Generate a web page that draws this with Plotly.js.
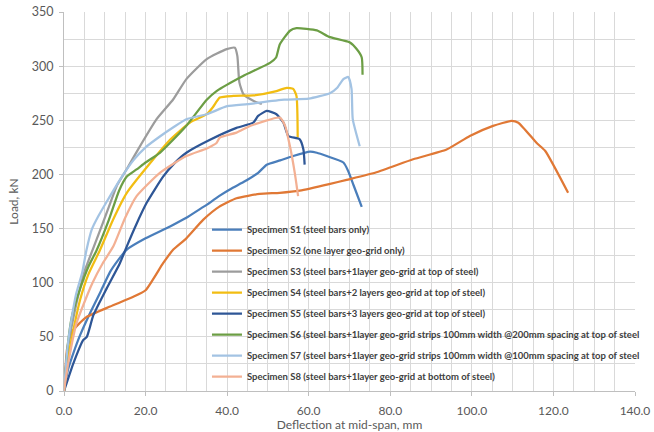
<!DOCTYPE html>
<html>
<head>
<meta charset="utf-8">
<script src="https://cdn.plot.ly/plotly-3.0.1.min.js"></script>
<style>
  html, body { margin: 0; padding: 0; background: #ffffff; }
  #chart { width: 654px; height: 432px; }
</style>
</head>
<body>
<div id="chart"></div>
<script>
// Load–deflection curves of the tested beam specimens
const s1Defl = [0, 1, 2.3, 4, 6.4, 9, 11.3, 13.5, 15.4, 20, 26, 30, 33.3, 35.8, 38, 41.5, 44, 47.6, 49.7, 53, 56.2, 60.3, 62, 64.4, 68.5, 69.7, 71, 73];
const s1Load = [0, 20, 35, 52, 72, 92, 110, 122, 130.6, 141, 152, 160, 168, 174, 180, 188, 193, 201.5, 209, 213, 217, 221, 220, 217, 211, 203, 190, 170];

const s2Defl = [0, 0.8, 2, 5.4, 11.3, 17, 20, 24.3, 26.8, 30, 34.1, 38, 42.3, 48, 52.9, 57.8, 65, 69.3, 76.6, 85.6, 93.8, 99.5, 105.2, 109.7, 111.4, 115.9, 118, 123.6];
const s2Load = [0, 40, 55, 68, 78, 87, 93, 118, 130.6, 141, 158, 170, 178, 182, 183, 185, 191, 195, 202, 214, 223, 235.5, 244.8, 249.4, 247.8, 229, 221.6, 183];

const s3Defl = [0, 1, 3, 5, 8, 11, 13, 15.4, 18, 22.7, 26.8, 30, 35, 39.9, 41.9, 42.5, 43, 44, 46.4, 48.5];
const s3Load = [0, 40, 80, 110, 140, 170, 190, 205, 222, 251, 269.4, 288, 306.5, 315.7, 317, 309.5, 285, 274, 268, 265];

const s4Defl = [0, 1, 2.5, 4, 6, 8.8, 12, 15.4, 21.9, 26, 30.9, 35, 36.5, 38.2, 41.5, 46.4, 52.1, 54.6, 56.2, 57, 57.3];
const s4Load = [0, 30, 60, 85, 108, 130, 158, 183, 214, 232, 248, 255.6, 262, 271, 272.5, 273, 277, 280, 279, 272.5, 234];

const s5Defl = [0, 2.3, 4.7, 5.6, 7.2, 10.5, 13.7, 15.4, 17.5, 20.3, 24.3, 27, 30, 35.8, 42.3, 46.4, 47.6, 49.7, 52.1, 53.8, 55, 57.8, 58.7, 59];
const s5Load = [0, 25.6, 47, 50, 70, 95, 118, 133.6, 152, 174, 198, 210, 220, 232, 243, 247.8, 254, 258.6, 255.6, 247.8, 235.5, 232.4, 223, 209];

const s6Defl = [0, 1, 2, 4, 6, 8, 11, 13.5, 15.4, 17.8, 20, 23.5, 27, 30, 35, 37.4, 43.9, 50.5, 52, 52.9, 55.4, 57, 62, 65, 70, 71.7, 73, 73.2];
const s6Load = [0, 45, 70, 95, 115, 130, 158, 185, 198, 204.6, 211, 220, 233, 245, 269, 277, 291, 303, 308, 320, 332.7, 335, 333, 327, 322, 316, 308, 292];

const s7Defl = [0, 0.5, 1, 2, 3, 4.5, 5.5, 6.8, 8.5, 10.5, 13.7, 17, 20, 23.5, 27, 30, 35, 40, 45, 54, 60, 65.2, 67, 68.5, 69.7, 70.5, 70.8, 72.5];
const s7Load = [0, 25, 45, 70, 90, 110, 130, 149, 162, 175, 195, 213, 225, 235, 244, 251, 255.6, 263, 265, 269, 270, 275, 280, 288, 290, 279, 251, 226];

const s8Defl = [0, 1, 2, 3, 5, 7, 9.5, 12.1, 15, 17.8, 23.5, 30, 35, 37.4, 38.2, 42.3, 45.6, 52.9, 54.2, 55.4, 56.6, 57.4];
const s8Load = [0, 25, 45, 62, 82, 100, 118, 133.6, 160, 180, 201.5, 217, 224, 229, 234, 238.6, 244.7, 252.5, 245, 226, 201, 180];

const seriesNames = [
  'Specimen S1 (steel bars only)',
  'Specimen S2 (one layer geo-grid only)',
  'Specimen S3 (steel bars+1layer geo-grid at top of steel)',
  'Specimen S4 (steel bars+2 layers geo-grid at top of steel)',
  'Specimen S5 (steel bars+3 layers geo-grid at top of steel)',
  'Specimen S6 (steel bars+1layer geo-grid strips 100mm width @200mm spacing at top of steel',
  'Specimen S7 (steel bars+1layer geo-grid strips 100mm width @100mm spacing at top of steel',
  'Specimen S8 (steel bars+1layer geo-grid at bottom of steel)'
];

const xTickVals = [0, 20, 40, 60, 80, 100, 120, 140];
const xTickText = ['0.0', '20.0', '40.0', '60.0', '80.0', '100.0', '120.0', '140.0'];
const yTickVals = [0, 50, 100, 150, 200, 250, 300, 350];

const seriesX = [s1Defl, s2Defl, s3Defl, s4Defl, s5Defl, s6Defl, s7Defl, s8Defl];
const seriesY = [s1Load, s2Load, s3Load, s4Load, s5Load, s6Load, s7Load, s8Load];
const colors = ['#4a7ebb', '#e07835', '#9c9c9c', '#f2bd12', '#2e5696', '#6c9e45', '#a3c3e3', '#f3b093'];

const traces = seriesNames.map((name, i) => ({
  x: seriesX[i],
  y: seriesY[i],
  name: name,
  legendgroup: 'g' + i,
  type: 'scatter',
  mode: 'lines',
  line: { color: colors[i], width: 2.25, shape: 'spline', smoothing: 0.5 }
}));

const textFont = 'Lato, "Liberation Sans", sans-serif';

const layout = {
  width: 654,
  height: 432,
  margin: { l: 64, r: 19, t: 12, b: 41, autoexpand: false },
  paper_bgcolor: '#ffffff',
  plot_bgcolor: '#ffffff',
  font: { family: textFont, color: '#595959', size: 12 },
  showlegend: true,
  legend: {
    x: 0.2504, y: 0.464, xanchor: 'left', yanchor: 'top',
    bgcolor: 'rgba(0,0,0,0)',
    font: { size: 9.5, color: '#404040', family: textFont, weight: 'bold' },
    traceorder: 'grouped',
    tracegroupgap: 2,
    itemwidth: 30
  },
  xaxis: {
    range: [0, 140],
    automargin: false,
    tickvals: xTickVals,
    ticktext: xTickText,
    showgrid: true,
    gridcolor: '#d9d9d9',
    gridwidth: 1,
    minor: { dtick: 5, showgrid: true, gridcolor: '#d9d9d9', gridwidth: 1 },
    zeroline: false,
    showline: true,
    linecolor: '#bfbfbf',
    ticks: 'outside',
    ticklen: 4,
    tickcolor: '#bfbfbf',
    ticklabelstandoff: 5,
    tickfont: { size: 12, color: '#595959' },
    title: { text: 'Deflection at mid-span, mm', font: { size: 12, color: '#595959' }, standoff: 4 }
  },
  yaxis: {
    range: [0, 350],
    automargin: false,
    tickvals: yTickVals,
    showgrid: true,
    gridcolor: '#d9d9d9',
    gridwidth: 1,
    minor: { dtick: 25, showgrid: true, gridcolor: '#d9d9d9', gridwidth: 1 },
    zeroline: false,
    showline: true,
    linecolor: '#bfbfbf',
    ticks: 'outside',
    ticklen: 4,
    tickcolor: '#bfbfbf',
    ticklabelstandoff: 3,
    tickfont: { size: 12.5, color: '#595959' },
    title: { text: 'Load, kN', font: { size: 12, color: '#595959' }, standoff: 10 }
  }
};

Plotly.newPlot('chart', traces, layout, { displayModeBar: false, staticPlot: true });
</script>
</body>
</html>
